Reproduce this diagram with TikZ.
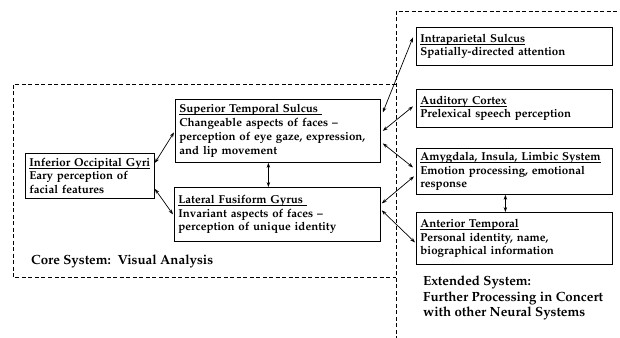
\documentclass[tikz,border=0pt]{standalone}
\usepackage[T1]{fontenc}
\usepackage{mathpazo}
\usetikzlibrary{arrows.meta,calc}
\newcommand\ttl[1]{\underline{\raisebox{0pt}[\height][0pt]{#1}}}
\begin{document}
\begin{tikzpicture}[x=1pt,y=-1pt,
  box/.style={draw,line width=0.8pt,anchor=north west,align=left,inner sep=0pt,
    font=\fontsize{11.5}{13.8}\selectfont\bfseries},
  link/.style={{Stealth[length=5pt,width=3.5pt]}-{Stealth[length=5pt,width=3.5pt]},line width=0.7pt},
  region/.style={dashed,dash pattern=on 4pt off 2.5pt,line width=0.8pt},
  caption/.style={anchor=north west,align=left,inner sep=0pt,font=\fontsize{13.3}{15.2}\selectfont\bfseries}]
\useasboundingbox (0,0) rectangle (620,337);
% regions
\draw[region] (396,340) -- (396,11) -- (625,11);
\draw[region] (396,84) -- (13,84) -- (13,277) -- (396,277);
% core boxes
\node[box,minimum width=129,minimum height=45,text width=121] (iog) at (25,153)
  {\ttl{Inferior Occipital Gyri}\\Eary perception of\\facial features};
\node[box,minimum width=205,minimum height=63,text width=197] (sts) at (175,99)
  {\ttl{Superior Temporal Sulcus\ }\\Changeable aspects of faces --\\perception of eye gaze, expression,\\and lip movement};
\node[box,minimum width=206,minimum height=54,text width=198] (lfg) at (174,187)
  {\ttl{Lateral Fusiform Gyrus\ }\\Invariant aspects of faces --\\perception of unique identity};
% extended boxes
\node[box,minimum width=196,minimum height=38,text width=188] (ips) at (416,27)
  {\ttl{Intraparietal Sulcus}\\Spatially-directed attention};
\node[box,minimum width=196,minimum height=38,text width=188] (ac) at (416,89)
  {\ttl{Auditory Cortex}\\Prelexical speech perception};
\node[box,minimum width=196,minimum height=46,text width=188] (amy) at (416,148)
  {\ttl{Amygdala, Insula, Limbic System}\\Emotion processing, emotional\\response};
\node[box,minimum width=196,minimum height=52,text width=188] (at) at (416,212)
  {\ttl{Anterior Temporal}\\Personal identity, name,\\biographical information};
% captions
\node[caption,anchor=base west] (core) at (31,264) {Core System:\ \ Visual Analysis};
\node[caption] (ext) at (423,276) {Extended System:\\Further Processing in Concert\\with other Neural Systems};
% connectors
\draw[link] ([yshift=-10pt]iog.north east) -- ([xshift=-1pt,yshift=-1.5pt]sts.west);
\draw[link] ([yshift=10pt]iog.south east) -- ([xshift=-1pt]lfg.west);
\draw[link] ([xshift=-9.5pt]sts.south) -- ([xshift=-9.5pt]sts.south |- lfg.north);
\draw[link] ([xshift=2pt,yshift=18.5pt]sts.east) -- ([xshift=-3pt,yshift=9pt]ips.west);
\draw[link] ([xshift=2pt]sts.east) -- ([xshift=-3pt,yshift=2pt]ac.west);
\draw[link] ([xshift=2pt,yshift=-12.5pt]sts.east) -- ([xshift=-3pt,yshift=4pt]amy.west);
\draw[link] ([xshift=1pt,yshift=11pt]lfg.east) -- ([xshift=-2pt,yshift=-5pt]amy.west);
\draw[link] ([xshift=1pt,yshift=4pt]lfg.east) -- ([xshift=-1pt,yshift=-4pt]at.west);
\draw[link] ([xshift=-9pt]amy.south) -- ([xshift=-9pt]amy.south |- at.north);
\end{tikzpicture}
\end{document}
